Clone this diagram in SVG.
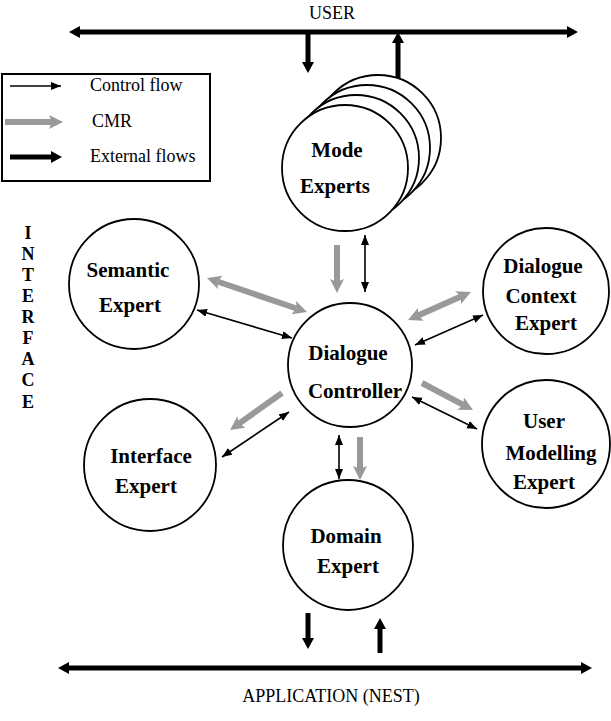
<svg xmlns="http://www.w3.org/2000/svg" width="611" height="721" viewBox="0 0 611 721">
<defs>
<style>
.node{fill:#fff;stroke:#000;stroke-width:1.8}
.lbl{font-family:"Liberation Serif","Times New Roman",serif;font-weight:bold;font-size:21px;text-anchor:middle;fill:#000}
.plain{font-family:"Liberation Serif","Times New Roman",serif;font-size:18px;fill:#000}
.ctl{stroke:#000;stroke-width:1.6;fill:none}
.cmr{stroke:#999;stroke-width:6;fill:none}
.ext{stroke:#000;stroke-width:5;fill:none}
</style>
<marker id="mc" markerUnits="userSpaceOnUse" markerWidth="11" markerHeight="9" refX="10" refY="4" orient="auto-start-reverse"><path d="M0,0 L10,4 L0,8 z" fill="#000"/></marker>
<marker id="mm" markerUnits="userSpaceOnUse" markerWidth="15" markerHeight="15" refX="3" refY="7" orient="auto-start-reverse"><path d="M0,0 L14,7 L0,14 L3,7 z" fill="#999"/></marker>
<marker id="me" markerUnits="userSpaceOnUse" markerWidth="12" markerHeight="13" refX="2" refY="6" orient="auto-start-reverse"><path d="M0,0 L11,6 L0,12 z" fill="#000"/></marker>
</defs>
<rect width="611" height="721" fill="#fff"/>

<g id="legend">
<rect x="2" y="74" width="208" height="107" fill="#fff" stroke="#000" stroke-width="2"/>
<line class="ctl" x1="10" y1="86" x2="61" y2="86" marker-end="url(#mc)"/>
<text class="plain" x="90" y="91">Control flow</text>
<line class="cmr" x1="5" y1="122" x2="52" y2="122" marker-end="url(#mm)"/>
<text class="plain" x="92" y="127">CMR</text>
<line class="ext" x1="10" y1="157" x2="53" y2="157" marker-end="url(#me)"/>
<text class="plain" x="90" y="162">External flows</text>
</g>

<g id="user">
<text class="plain" x="332" y="19" text-anchor="middle">USER</text>
</g>
<g id="application">
<text class="plain" x="331" y="702" text-anchor="middle">APPLICATION (NEST)</text>
</g>
<g id="interface-label" font-family="Liberation Serif, Times New Roman, serif" font-weight="bold" font-size="18" text-anchor="middle">
<text x="28" y="239">I</text>
<text x="28" y="260">N</text>
<text x="28" y="281">T</text>
<text x="28" y="302">E</text>
<text x="28" y="323">R</text>
<text x="28" y="344">F</text>
<text x="28" y="365">A</text>
<text x="28" y="386">C</text>
<text x="28" y="408">E</text>
</g>

<g id="connectors">
<!-- external flows -->
<line class="ext" x1="78" y1="32" x2="569" y2="32" marker-start="url(#me)" marker-end="url(#me)"/>
<line class="ext" x1="67" y1="668" x2="583" y2="668" marker-start="url(#me)" marker-end="url(#me)"/>
<line class="ext" x1="308" y1="32" x2="308" y2="64" marker-end="url(#me)"/>
<line class="ext" x1="398" y1="78" x2="398" y2="41" marker-end="url(#me)"/>
<line class="ext" x1="308" y1="613" x2="308" y2="640" marker-end="url(#me)"/>
<line class="ext" x1="380" y1="653" x2="380" y2="627" marker-end="url(#me)"/>
<!-- CMR -->
<line class="cmr" x1="337" y1="245" x2="337" y2="282" marker-end="url(#mm)"/>
<line class="cmr" x1="217.4" y1="281.5" x2="296.6" y2="308.5" marker-start="url(#mm)" marker-end="url(#mm)"/>
<line class="cmr" x1="282" y1="393" x2="239" y2="423.6" marker-end="url(#mm)"/>
<line class="cmr" x1="418.1" y1="315.5" x2="460.9" y2="296.5" marker-start="url(#mm)" marker-end="url(#mm)"/>
<line class="cmr" x1="422" y1="383" x2="463.3" y2="404.9" marker-end="url(#mm)"/>
<line class="cmr" x1="360" y1="437" x2="360" y2="469" marker-end="url(#mm)"/>
<!-- control -->
<line class="ctl" x1="365" y1="235" x2="365" y2="292" marker-start="url(#mc)" marker-end="url(#mc)"/>
<line class="ctl" x1="197" y1="310" x2="292" y2="338" marker-start="url(#mc)" marker-end="url(#mc)"/>
<line class="ctl" x1="222" y1="457" x2="289" y2="412" marker-start="url(#mc)" marker-end="url(#mc)"/>
<line class="ctl" x1="415" y1="345" x2="483" y2="315" marker-start="url(#mc)" marker-end="url(#mc)"/>
<line class="ctl" x1="412" y1="397" x2="477" y2="429" marker-start="url(#mc)" marker-end="url(#mc)"/>
<line class="ctl" x1="339" y1="435" x2="339" y2="479" marker-start="url(#mc)" marker-end="url(#mc)"/>
</g>

<g id="mode-experts">
<circle class="node" cx="378" cy="138" r="63"/>
<circle class="node" cx="367" cy="148" r="63"/>
<circle class="node" cx="356" cy="158" r="63"/>
<circle class="node" cx="345" cy="168" r="63"/>
<text class="lbl" x="337" y="157">Mode</text>
<text class="lbl" x="335" y="193">Experts</text>
</g>
<g id="semantic-expert">
<circle class="node" cx="134" cy="284" r="65"/>
<text class="lbl" x="128" y="277">Semantic</text>
<text class="lbl" x="130" y="312">Expert</text>
</g>
<g id="interface-expert">
<circle class="node" cx="150" cy="465" r="66"/>
<text class="lbl" x="151" y="463">Interface</text>
<text class="lbl" x="146" y="493">Expert</text>
</g>
<g id="dialogue-controller">
<circle class="node" cx="350" cy="365" r="62"/>
<text class="lbl" x="348" y="360">Dialogue</text>
<text class="lbl" x="355" y="398">Controller</text>
</g>
<g id="dialogue-context-expert">
<circle class="node" cx="546" cy="291" r="63"/>
<text class="lbl" x="543" y="273">Dialogue</text>
<text class="lbl" x="541" y="303">Context</text>
<text class="lbl" x="546" y="330">Expert</text>
</g>
<g id="user-modelling-expert">
<circle class="node" cx="546" cy="444" r="64"/>
<text class="lbl" x="544" y="428">User</text>
<text class="lbl" x="551" y="460">Modelling</text>
<text class="lbl" x="544" y="489">Expert</text>
</g>
<g id="domain-expert">
<circle class="node" cx="348" cy="545" r="65"/>
<text class="lbl" x="346" y="543">Domain</text>
<text class="lbl" x="348" y="573">Expert</text>
</g>
</svg>
